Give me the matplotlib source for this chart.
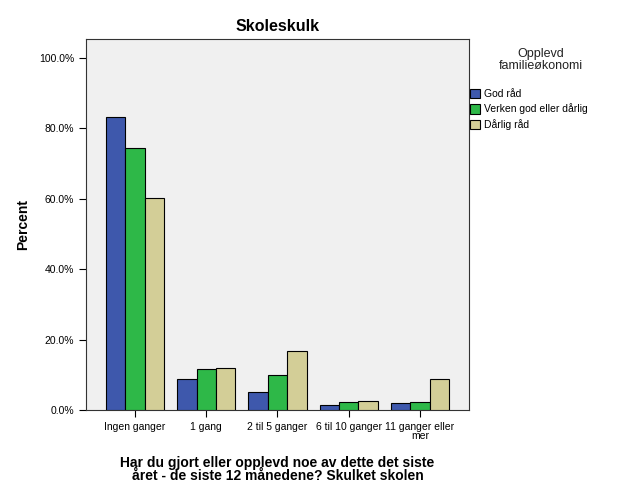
import numpy as np
import matplotlib.pyplot as plt

plt.rcParams['font.family'] = ['Liberation Sans', 'DejaVu Sans']

categories = ['Ingen ganger', '1 gang', '2 til 5 ganger', '6 til 10 ganger', '11 ganger eller\nmer']
series = ['God råd', 'Verken god eller dårlig', 'Dårlig råd']
god = [83.2, 8.9, 5.2, 1.3, 2.0]
verken = [74.4, 11.7, 9.9, 2.3, 2.4]
darlig = [60.2, 12.0, 16.8, 2.6, 8.8]
colors = ['#3E58AC', '#2EB848', '#D3CE97']

fig = plt.figure(figsize=(6.25, 5), dpi=100)
ax = fig.add_axes([0.1376, 0.18, 0.6128, 0.742])
ax.set_facecolor('#F0F0F0')

x = np.arange(len(categories))
w = 0.272
for i, (vals, c, lab) in enumerate(zip([god, verken, darlig], colors, series)):
    ax.bar(x + (i - 1) * w, vals, w, color=c, edgecolor='black', linewidth=0.8, label=lab, zorder=3)

ax.set_xlim(-0.69, 4.69)
ax.set_ylim(0, 105.4)
ax.set_yticks([0, 20, 40, 60, 80, 100])
ax.set_yticklabels(['0.0%', '20.0%', '40.0%', '60.0%', '80.0%', '100.0%'])
ax.set_xticks(x)
ax.set_xticklabels(categories, linespacing=0.85)
ax.tick_params(axis='both', labelsize=7.5, direction='out', length=5, width=0.8, colors='black')
for s in ax.spines.values():
    s.set_color('#333333')
    s.set_linewidth(0.8)

ax.set_title('Skoleskulk', fontsize=11.5, fontweight='bold', pad=6)
ax.set_ylabel('Percent', fontsize=10, fontweight='bold', labelpad=6.5)
ax.set_xlabel('Har du gjort eller opplevd noe av dette det siste\nåret - de siste 12 månedene? Skulket skolen',
              fontsize=10, fontweight='bold', linespacing=0.95, labelpad=11)

fig.text(0.865, 0.88, 'Opplevd\nfamilieøkonomi', ha='center', va='center', fontsize=9,
         linespacing=1.0, color='#222222')
leg = fig.legend(loc='upper left', bbox_to_anchor=(0.752, 0.822), frameon=False, fontsize=7.5,
                 handlelength=1.0, handleheight=1.0, handletextpad=0.3, labelspacing=0.42,
                 borderaxespad=0.0, borderpad=0.0)

fig.savefig('out.png', dpi=100)
